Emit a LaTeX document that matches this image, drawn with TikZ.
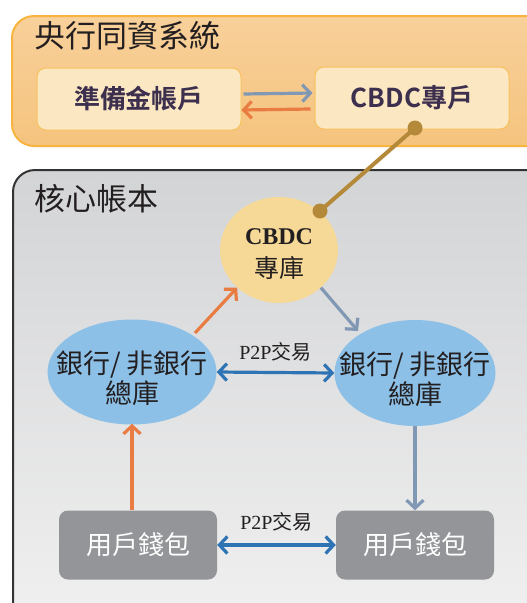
\documentclass[tikz,border=0pt]{standalone}
\usepackage{fontspec}
\setmainfont{Liberation Serif}
\newfontfamily\cjk{Noto Sans CJK TC}
\newfontfamily\cjkb{Noto Sans CJK TC}[BoldFont={* Bold}]
\usetikzlibrary{arrows.meta,shapes.geometric}
\definecolor{obord}{HTML}{F9B33F}
\definecolor{otop}{HTML}{F8D09A}
\definecolor{obot}{HTML}{F5C47E}
\definecolor{ibox}{HTML}{FBE8C2}
\definecolor{iborder}{HTML}{F7C25E}
\definecolor{purp}{HTML}{3D2F4E}
\definecolor{gtop}{HTML}{D3D4D6}
\definecolor{gbot}{HTML}{F1F1F1}
\definecolor{gbord}{HTML}{333333}
\definecolor{cbdcfill}{HTML}{F6D996}
\definecolor{gold}{HTML}{B5893A}
\definecolor{bankfill}{HTML}{8CC0E7}
\definecolor{walletfill}{HTML}{939598}
\definecolor{p2pblue}{HTML}{2E74B5}
\definecolor{orangearr}{HTML}{E97C43}
\definecolor{grayblue}{HTML}{8198B4}
\definecolor{txt}{HTML}{231F20}
\tikzset{
  innerbox/.style={draw=iborder,line width=1pt,fill=ibox,rounded corners=9pt,minimum width=204pt,minimum height=62pt,font=\cjkb\fontsize{26}{28}\selectfont\bfseries,text=purp},
  bankell/.style={ellipse,fill=bankfill,draw=none,inner sep=0pt},
  banktext/.style={align=center,font=\cjk\fontsize{27}{31}\selectfont,text=txt,inner sep=0pt},
  wallet/.style={fill=walletfill,draw=none,rounded corners=9pt,minimum width=158pt,minimum height=69pt,font=\cjk\fontsize{26}{28}\selectfont,text=white},
  arr/.style={line width=3.2pt,-{Straight Barb[length=8pt,width=17pt,line width=3.2pt]}},
  darr/.style={line width=3.2pt,{Straight Barb[length=8pt,width=17pt,line width=3.2pt]}-{Straight Barb[length=8pt,width=17pt,line width=3.2pt]}},
  p2p/.style={font=\fontsize{20}{22}\selectfont,text=txt,inner sep=0pt}
}
\begin{document}
\begin{tikzpicture}[x=1pt,y=-1pt]
\useasboundingbox (0,0) rectangle (527,603);
\clip (0,0) rectangle (527,603);
% central bank system
\path[draw=obord,line width=2pt,rounded corners=22pt,top color=otop,bottom color=obot] (12,16) rectangle (560,146);
\node[anchor=west,font=\cjk\fontsize{31}{33}\selectfont,text=txt,inner sep=0pt] (t1) at (34,36) {央行同資系統};
\node[innerbox] (res) at (139,99) {準備金帳戶};
\node[innerbox,minimum width=194pt] (cbdcacc) at (412,98) {CBDC專戶};
% core ledger
\path[draw=gbord,line width=2pt,rounded corners=22pt,top color=gtop,bottom color=gbot] (13,170) rectangle (560,640);
\node[anchor=west,font=\cjk\fontsize{31}{33}\selectfont,text=txt,inner sep=0pt] (t2) at (34,199) {核心帳本};
\node[ellipse,fill=cbdcfill,minimum width=118pt,minimum height=106pt,inner sep=0pt] (vault) at (279,250) {};
\node[align=center,text=txt,inner sep=0pt] (vaulttext) at ([yshift=-4pt]vault.center) {{\fontsize{24}{24}\selectfont\bfseries CBDC}\\[10pt]{\cjk\fontsize{25}{25}\selectfont 專庫}};
\node[bankell,minimum width=169pt,minimum height=105pt] (bankL) at (132,372) {};
\node[banktext] (bankLt) at ([yshift=-6pt]bankL.center) {銀行/ 非銀行\\[-1pt]總庫};
\node[bankell,minimum width=161pt,minimum height=106pt] (bankR) at (415,373) {};
\node[banktext] (bankRt) at ([yshift=-6pt]bankR.center) {銀行/ 非銀行\\[-1pt]總庫};
\node[wallet] (wL) at (138,545) {用戶錢包};
\node[wallet] (wR) at (415,545) {用戶錢包};
% gold link
\coordinate (g1) at (415,128);
\coordinate (g2) at (320,211);
\draw[gold,line width=4pt] (g1) -- (g2);
\fill[gold] (g1) circle (7.5pt);
\fill[gold] (g2) circle (7.5pt);
% arrows top
\draw[arr,grayblue] ([xshift=2pt,yshift=5pt]res.east) -- ([xshift=-2pt,yshift=5pt]cbdcacc.west);
\draw[arr,orangearr] ([xshift=-4pt,yshift=-11pt]cbdcacc.west) -- ([xshift=0pt,yshift=-11pt]res.east);
% P2P
\draw[darr,p2pblue] (bankL.east) -- node[p2p,above=10pt] {P2P{\cjk 交易}} (bankR.west);
\draw[darr,p2pblue] (wL.east) -- node[p2p,above=12pt] {P2P{\cjk 交易}} (wR.west);
% flows
\draw[arr,orangearr] (wL.north -| bankL.south) -- ([yshift=1pt]bankL.south);
\draw[arr,orangearr] (195,333) -- (vault.south west);
\draw[arr,grayblue] (vault.south east) -- (358,331);
\draw[arr,grayblue] (bankR.south) -- (wR.north);
\end{tikzpicture}
\end{document}
